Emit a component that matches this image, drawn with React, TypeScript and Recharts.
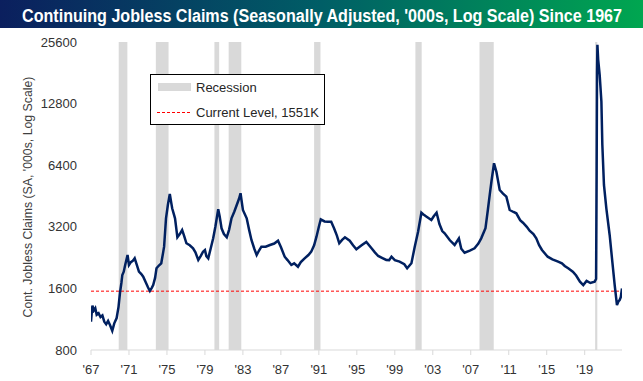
import React from 'react';
import { LineChart, Line, XAxis, YAxis, ReferenceArea, ReferenceLine } from 'recharts';

// weekly continuing claims, thousands (decimal years)
const years = [
  1967.0, 1967.1, 1967.15, 1967.3, 1967.45, 1967.6, 1967.8, 1968.0, 1968.2, 1968.4, 1968.6, 1968.8,
  1969.0, 1969.24, 1969.45, 1969.7, 1969.9, 1970.05, 1970.2, 1970.3, 1970.45, 1970.6, 1970.85,
  1971.0, 1971.2, 1971.4, 1971.6, 1971.8, 1972.05, 1972.3, 1972.5, 1972.8, 1973.0, 1973.2, 1973.4,
  1973.55, 1973.75, 1973.9, 1974.15, 1974.4, 1974.6, 1974.7, 1974.8, 1974.9, 1975.1, 1975.3,
  1975.45, 1975.55, 1975.85, 1976.1, 1976.35, 1976.6, 1976.8, 1977.05, 1977.4, 1977.75, 1978.0,
  1978.3, 1978.55, 1978.8, 1979.0, 1979.15, 1979.35, 1979.6, 1979.87, 1980.1, 1980.4, 1980.55,
  1980.75, 1981.0, 1981.3, 1981.55, 1981.8, 1982.1, 1982.35, 1982.6, 1982.75, 1983.0, 1983.4,
  1983.65, 1983.9, 1984.2, 1984.45, 1984.7, 1984.95, 1985.4, 1985.85, 1986.3, 1986.7, 1987.0,
  1987.4, 1987.7, 1988.1, 1988.4, 1988.8, 1989.1, 1989.5, 1989.9, 1990.2, 1990.5, 1990.75,
  1991.0, 1991.2, 1991.6, 1991.95, 1992.3, 1992.6, 1992.9, 1993.15, 1993.45, 1993.75, 1994.25,
  1994.6, 1994.95, 1995.5, 1996.0, 1996.55, 1996.9, 1997.25, 1997.7, 1998.1, 1998.4, 1998.65,
  1999.0, 1999.5, 2000.0, 2000.3, 2000.75, 2001.1, 2001.45, 2001.8, 2002.1, 2002.35, 2002.85,
  2003.1, 2003.4, 2003.7, 2004.0, 2004.25, 2004.8, 2005.3, 2005.75, 2006.0, 2006.35, 2006.9,
  2007.4, 2007.8, 2008.1, 2008.55, 2008.8, 2009.0, 2009.2, 2009.45, 2009.7, 2010.05, 2010.4,
  2010.75, 2011.1, 2011.5, 2011.8, 2012.2, 2012.5, 2012.9, 2013.2, 2013.6, 2013.9, 2014.2,
  2014.5, 2015.1, 2015.6, 2016.2, 2016.6, 2016.9, 2017.3, 2017.75, 2018.1, 2018.5, 2018.85,
  2019.2, 2019.6, 2020.05, 2020.2, 2020.26, 2020.3, 2020.34, 2020.42, 2020.58, 2020.76, 2020.86,
  2021.03, 2021.28, 2021.63, 2021.91, 2022.16, 2022.4, 2022.55, 2022.68, 2022.8, 2022.93,
];
const claims = [
  1100, 1250, 1317, 1250, 1280, 1190, 1210, 1160, 1180, 1100, 1070, 1110,
  1060, 994, 1080, 1146, 1300, 1519, 1700, 1861, 1930, 2082, 2330,
  2082, 2150, 2180, 2245, 2100, 1931, 1880, 1826, 1700, 1620, 1554, 1610,
  1662, 1800, 2006, 2070, 2122, 2400, 2558, 3000, 3521, 4100, 4628,
  4200, 3941, 3521, 2844, 2950, 3087, 2900, 2658, 2600, 2512, 2400,
  2203, 2300, 2419, 2465, 2300, 2245, 2500, 2810, 3200, 3897, 3600,
  3147, 2950, 2844, 3100, 3521, 3800, 4090, 4400, 4666, 3866, 3521,
  3100, 2759, 2500, 2330, 2450, 2558, 2560, 2608, 2650, 2738, 2550,
  2286, 2200, 2082, 2120, 2042, 2150, 2245, 2330, 2419, 2600, 2863,
  3200, 3482, 3400, 3389, 3389, 3147, 2900, 2658, 2760, 2844, 2738,
  2600, 2483, 2600, 2700, 2512, 2400, 2304, 2250, 2203, 2200, 2286,
  2200, 2162, 2100, 2006, 2122, 2558, 3028, 3751, 3650, 3585, 3454,
  3600, 3751, 3300, 3050, 2974, 2750, 2608, 2810, 2500, 2390, 2450,
  2512, 2650, 2810, 3147, 3866, 4600, 5418, 6539, 5949, 4841, 4650,
  4490, 3866, 3780, 3724, 3450, 3350, 3200, 3063, 2950, 2810, 2600,
  2465, 2286, 2220, 2162, 2120, 2059, 2000, 1931, 1850, 1725, 1662,
  1740, 1700, 1725, 1780, 6000, 18000, 24800, 21000, 17660, 13080, 8034,
  5124, 3941, 2918, 2162, 1662, 1327, 1380, 1404, 1450, 1600,
];

const recessionStart = [1969.92, 1973.83, 1980.0, 1981.5, 1990.5, 2001.17, 2007.92, 2020.1];
const recessionEnd = [1970.83, 1975.17, 1980.5, 1982.83, 1991.17, 2001.83, 2009.42, 2020.33];

const xTicks = [1967, 1971, 1975, 1979, 1983, 1987, 1991, 1995, 1999, 2003, 2007, 2011, 2015, 2019];
const yTicks = [800, 1600, 3200, 6400, 12800, 25600];
const currentLevel = 1551;

const data = years.map((year, i) => ({ year, claims: claims[i] }));

const FONT = '"Liberation Sans", Arial, sans-serif';

export default function App() {
  return (
    <div style={{ position: 'absolute', left: 0, top: 0, width: 643, height: 381, background: '#fff' }}>
      <svg width={643} height={28} style={{ position: 'absolute', left: 0, top: 0 }}>
        <defs>
          <linearGradient id="titleGrad" x1="0" y1="0" x2="1" y2="0">
            <stop offset="0%" stopColor="#0b1f5e" />
            <stop offset="50%" stopColor="#005e66" />
            <stop offset="100%" stopColor="#00a650" />
          </linearGradient>
        </defs>
        <rect x={0} y={0} width={643} height={28} fill="url(#titleGrad)" />
        <text
          transform="translate(22, 21.5) scale(1, 1.12)"
          x={0}
          y={0}
          fontFamily={FONT}
          fontWeight="bold"
          fontSize={16}
          fill="#ffffff"
          textLength={600}
          lengthAdjust="spacingAndGlyphs"
        >
          Continuing Jobless Claims (Seasonally Adjusted, '000s, Log Scale) Since 1967
        </text>
      </svg>

      <div style={{ position: 'absolute', left: 0, top: 0 }}>
        <LineChart width={643} height={381} data={data} margin={{ top: 42, right: 21, left: 0, bottom: 0 }}>
          <XAxis
            dataKey="year"
            type="number"
            domain={[1967, 2022.93]}
            ticks={xTicks}
            tickFormatter={(v: number) => "'" + String(v).slice(2)}
            height={31}
            stroke="#d9d9d9"
            tickSize={5}
            tickMargin={10}
            tick={{ fill: '#333', fontSize: 13, fontFamily: FONT }}
            allowDataOverflow
          />
          <YAxis
            type="number"
            scale="log"
            domain={[800, 25600]}
            ticks={yTicks}
            width={91}
            axisLine={false}
            tickLine={false}
            tickSize={0}
            tickMargin={14}
            tick={{ fill: '#333', fontSize: 13, fontFamily: FONT }}
            allowDataOverflow
          />
          {recessionStart.map((s, i) => (
            <ReferenceArea
              key={i}
              x1={s}
              x2={recessionEnd[i]}
              y1={800}
              y2={25600}
              fill="#d9d9d9"
              fillOpacity={1}
              stroke="none"
            />
          ))}
          <ReferenceLine y={currentLevel} stroke="#ff0000" strokeDasharray="3 2" strokeWidth={1} />
          <Line
            type="linear"
            dataKey="claims"
            stroke="#002060"
            strokeWidth={2.5}
            dot={false}
            isAnimationActive={false}
          />
        </LineChart>
      </div>

      <svg width={643} height={381} style={{ position: 'absolute', left: 0, top: 0, pointerEvents: 'none' }}>
        <text
          x={28}
          y={197}
          transform="rotate(-90, 28, 197)"
          textAnchor="middle"
          dominantBaseline="central"
          fontFamily={FONT}
          fontSize={12.3}
          fill="#404040"
        >
          Cont. Jobless Claims (SA, '000s, Log Scale)
        </text>
        <rect x={150.5} y={74.5} width={174} height={50} fill="#fff" stroke="#000" strokeWidth={1} />
        <rect x={158} y={83} width={33} height={8} fill="#d9d9d9" />
        <text x={196} y={87} dominantBaseline="central" fontFamily={FONT} fontSize={13} fill="#262626">
          Recession
        </text>
        <line x1={157} y1={112.5} x2={192} y2={112.5} stroke="#ff0000" strokeDasharray="3 2" strokeWidth={1} />
        <text x={196} y={112} dominantBaseline="central" fontFamily={FONT} fontSize={13} fill="#262626">
          Current Level, 1551K
        </text>
      </svg>
    </div>
  );
}
